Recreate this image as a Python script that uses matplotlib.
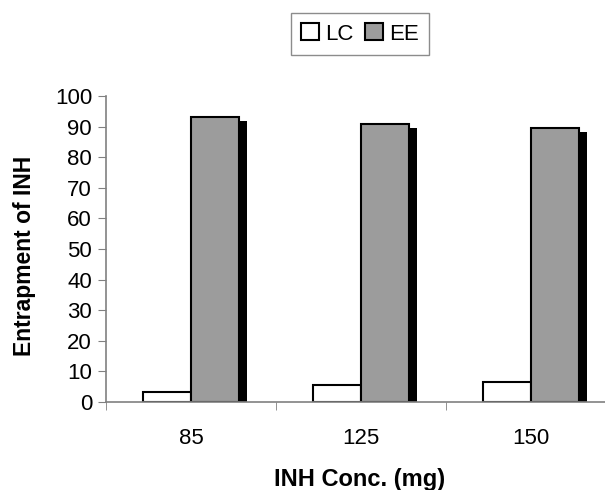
import matplotlib.pyplot as plt
import numpy as np
from matplotlib.patches import Patch

plt.rcParams['font.family'] = ['Liberation Sans', 'DejaVu Sans']

conc = ['85', '125', '150']
lc = [3.2, 5.5, 6.4]
ee = [93.2, 90.7, 89.4]

x = np.arange(len(conc))
w = 0.285

fig = plt.figure(figsize=(6.05, 4.9), dpi=100)
ax = fig.add_axes([106 / 605, 88 / 490, 499 / 605, 306 / 490])

# black drop shadow behind the EE bars
ax.bar(x + w / 2 + 0.045, np.array(ee) - 1.3, w, color='black', zorder=1)
ax.bar(x - w / 2, lc, w, color='white', edgecolor='black', lw=1.5, zorder=2, label='LC')
ax.bar(x + w / 2, ee, w, color='#9c9c9c', edgecolor='black', lw=1.5, zorder=2, label='EE')

ax.set_xlim(-0.5, 2.435)
ax.set_ylim(0, 100)
ax.set_yticks(range(0, 101, 10))
ax.set_xticks(x)
ax.set_xticklabels(conc)
ax.set_xticks([-0.5, 0.5, 1.5], minor=True)
ax.tick_params(axis='x', which='major', length=0, pad=19, labelsize=16)
ax.tick_params(axis='x', which='minor', length=6, color='#808080', direction='out')
ax.tick_params(axis='y', length=6, color='#808080', labelsize=16, pad=4)

for s in ['top', 'right']:
    ax.spines[s].set_visible(False)
for s in ['left', 'bottom']:
    ax.spines[s].set_color('#808080')
    ax.spines[s].set_linewidth(1.2)

ax.set_xlabel('INH Conc. (mg)', fontsize=17, fontweight='bold')
ax.set_ylabel('Entrapment of INH', fontsize=16.5, fontweight='bold')
ax.xaxis.set_label_coords(0.509, -0.215)
ax.yaxis.set_label_coords(-0.14, 0.477)

handles = [Patch(facecolor='white', edgecolor='black', lw=1.5),
           Patch(facecolor='#9c9c9c', edgecolor='black', lw=1.5)]
fig.legend(handles, ['LC', 'EE'], loc='center', bbox_to_anchor=(360 / 605, 1 - 34 / 490),
           ncol=2, fontsize=16, frameon=True, fancybox=False, edgecolor='#707070',
           handlelength=0.8, handleheight=0.8, handletextpad=0.3, columnspacing=0.5,
           borderpad=0.45)

fig.savefig('out.png', dpi=100)
